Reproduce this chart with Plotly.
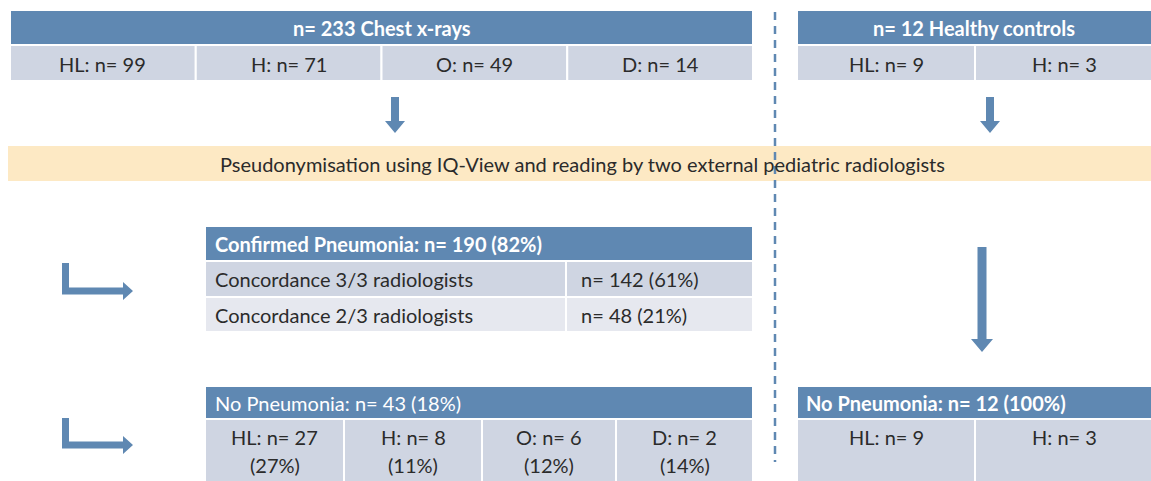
import plotly.graph_objects as go

# ---- data ----
study_total = 233
study_groups = ["HL", "H", "O", "D"]
study_counts = [99, 71, 49, 14]
control_total = 12
control_groups = ["HL", "H"]
control_counts = [9, 3]
process_text = "Pseudonymisation using IQ-View and reading by two external pediatric radiologists"
confirmed_n = 190
confirmed_pct = 82
concordance_labels = ["Concordance 3/3 radiologists", "Concordance 2/3 radiologists"]
concordance_n = [142, 48]
concordance_pct = [61, 21]
nopneu_n = 43
nopneu_pct = 18
nopneu_counts = [27, 8, 6, 2]
nopneu_group_pct = [27, 11, 12, 14]
control_nopneu_pct = 100

W, H = 1151, 481
BLUE = "#5f88b2"
ROW1 = "#cfd5e2"
ROW2 = "#e6e8ef"
BEIGE = "#fde9c4"
TXT = "#2b2b2b"
FONT = "Lato"
FS = 20

shapes = []
ann = []


def rect(x0, y0, x1, y1, color, line=True):
    shapes.append(dict(type="rect", x0=x0, y0=y0, x1=x1, y1=y1, xref="x", yref="y",
                       fillcolor=color, line=dict(color="white", width=2 if line else 0), layer="below"))


def text(x, y, s, color=TXT, size=FS, anchor="center", bold=False):
    if bold:
        s = "<b>" + s + "</b>"
    ann.append(dict(x=x, y=y, xref="x", yref="y", text=s, showarrow=False,
                    font=dict(color=color, size=size, family=FONT), xanchor=anchor, yanchor="middle"))


def down_arrow(xc, y0, y1, shaft=8, head=20, headlen=12):
    hs = shaft / 2
    hh = head / 2
    p = (f"M {xc-hs} {y0} L {xc+hs} {y0} L {xc+hs} {y1-headlen} L {xc+hh} {y1-headlen} "
         f"L {xc} {y1} L {xc-hh} {y1-headlen} L {xc-hs} {y1-headlen} Z")
    shapes.append(dict(type="path", path=p, xref="x", yref="y", fillcolor=BLUE, line=dict(width=0)))


def l_arrow(x0, y0, ybar, x1, t=7, head=18, headlen=10):
    p = (f"M {x0} {y0} L {x0+t} {y0} L {x0+t} {ybar-t/2} L {x1-headlen} {ybar-t/2} "
         f"L {x1-headlen} {ybar-head/2} L {x1} {ybar} L {x1-headlen} {ybar+head/2} "
         f"L {x1-headlen} {ybar+t/2} L {x0} {ybar+t/2} Z")
    shapes.append(dict(type="path", path=p, xref="x", yref="y", fillcolor=BLUE, line=dict(width=0)))


# ---- top left: study cohort ----
LX0, LX1 = 10, 753
rect(LX0, 10, LX1, 45, BLUE)
text((LX0 + LX1) / 2, 28, f"n= {study_total} Chest x-rays", color="white", bold=True)
cw = (LX1 - LX0) / len(study_groups)
for i, (g, c) in enumerate(zip(study_groups, study_counts)):
    x0 = LX0 + i * cw
    rect(x0, 45, x0 + cw, 81, ROW1)
    text(x0 + cw / 2, 64, f"{g}: n= {c}")

# ---- top right: healthy controls ----
RX0, RX1 = 797, 1153
rect(RX0, 10, RX1, 45, BLUE)
text((RX0 + 1151) / 2, 28, f"n= {control_total} Healthy controls", color="white", bold=True)
rw = (RX1 - RX0) / len(control_groups)
for i, (g, c) in enumerate(zip(control_groups, control_counts)):
    x0 = RX0 + i * rw
    rect(x0, 45, x0 + rw, 81, ROW1)
    text(x0 + rw / 2, 64, f"{g}: n= {c}")

# arrows down to process
down_arrow(395, 97, 133)
down_arrow(990, 97, 133)

# ---- process band ----
rect(8, 146, 1153, 181, BEIGE, line=False)
text(582, 163.5, process_text)

# ---- confirmed pneumonia ----
CX0, CX1, CXM = 205, 753, 566
rect(CX0, 226, CX1, 261, BLUE)
text(CX0 + 8, 243.5, f"Confirmed Pneumonia: n= {confirmed_n} ({confirmed_pct}%)", color="white",
     anchor="left", bold=True)
row_y = [(261, 297), (297, 332)]
row_c = [ROW1, ROW2]
for (y0, y1), col, lab, n, p in zip(row_y, row_c, concordance_labels, concordance_n, concordance_pct):
    rect(CX0, y0, CXM, y1, col)
    rect(CXM, y0, CX1, y1, col)
    text(CX0 + 8, (y0 + y1) / 2, lab, anchor="left")
    text(CXM + 13, (y0 + y1) / 2, f"n= {n} ({p}%)", anchor="left")

l_arrow(62, 263, 291, 133)
l_arrow(62, 418, 445, 133)

# big arrow on the right
down_arrow(982, 247, 352, shaft=9, head=22, headlen=13)

# ---- no pneumonia (study) ----
rect(CX0, 386, CX1, 419, BLUE)
text(CX0 + 8, 402.5, f"No Pneumonia: n= {nopneu_n} ({nopneu_pct}%)", color="white", anchor="left")
ncols = [205, 344, 482, 616, 753]
for i, (g, c, p) in enumerate(zip(study_groups, nopneu_counts, nopneu_group_pct)):
    x0, x1 = ncols[i], ncols[i + 1]
    rect(x0, 419, x1, 484, ROW1)
    text((x0 + x1) / 2, 437, f"{g}: n= {c}")
    text((x0 + x1) / 2, 465, f"({p}%)")

# ---- no pneumonia (controls) ----
rect(RX0, 386, RX1, 419, BLUE)
text(RX0 + 7, 402.5, f"No Pneumonia: n= {control_total} ({control_nopneu_pct}%)", color="white",
     anchor="left", bold=True)
for i, (g, c) in enumerate(zip(control_groups, control_counts)):
    x0 = RX0 + i * rw
    rect(x0, 419, x0 + rw, 484, ROW1)
    text(x0 + rw / 2, 437, f"{g}: n= {c}")

# dashed separator
shapes.append(dict(type="line", x0=775, x1=775, y0=12, y1=462, xref="x", yref="y",
                   line=dict(color=BLUE, width=2.5, dash="8px,6px")))

fig = go.Figure()
fig.update_layout(
    width=W, height=H, margin=dict(l=0, r=0, t=0, b=0),
    paper_bgcolor="white", plot_bgcolor="white",
    xaxis=dict(range=[0, W], visible=False, fixedrange=True),
    yaxis=dict(range=[H, 0], visible=False, fixedrange=True),
    shapes=shapes, annotations=ann, showlegend=False,
)
fig.write_html("out.html", config={"displayModeBar": False},
               post_script="document.body.style.margin='0';document.body.style.overflow='hidden';")
